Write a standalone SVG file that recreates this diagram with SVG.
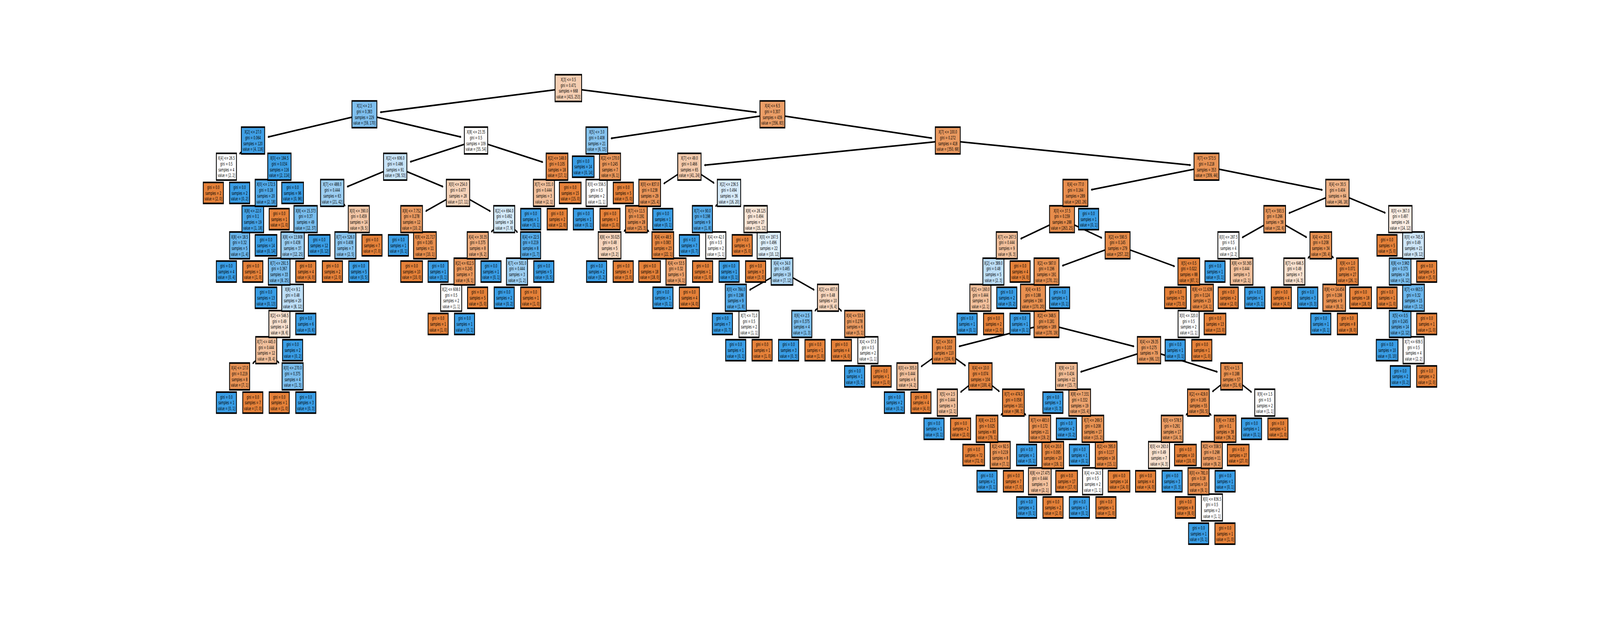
<svg xmlns="http://www.w3.org/2000/svg" width="8000" height="1600" viewBox="0 0 8000 1600" preserveAspectRatio="none" style="width:100vw;height:100vh;display:block">
<style>
.n rect{stroke:#000;stroke-width:4}
.n text{font-family:"DejaVu Sans","Liberation Sans",sans-serif;font-size:12.7px;text-anchor:middle;fill:#000}
.o{fill:#e58139}.b{fill:#399de5}
#edges path{fill:none;stroke:#000;stroke-width:4;marker-end:url(#ah)}
</style>
<defs>
<marker id="ah" viewBox="-10 -10 20 20" refX="0" refY="0" markerWidth="20" markerHeight="20" markerUnits="userSpaceOnUse" orient="auto"><path d="M-3.5,-1.8L0,0L-3.5,1.8" fill="none" stroke="#000" stroke-width="4" stroke-linejoin="miter" stroke-miterlimit="10"/></marker>
</defs>
<rect width="8000" height="1600" fill="#fff"/>
<g id="edges">
<path d="M2841.7,225.5L1903.4,287.2"/><path d="M2841.7,225.5L3780.6,287.2"/>
<path d="M1822,292.6L1342.2,350.4"/><path d="M1822,292.6L2302.8,350.4"/>
<path d="M1265,359.7L1199.5,392.8"/><path d="M1265,359.7L1321.5,388.4"/>
<path d="M1132,426.8L1106.6,452.8"/><path d="M1132,426.8L1157.6,452.9"/>
<path d="M1397,426.8L1378.2,445.6"/><path d="M1397,426.8L1422.6,452.9"/>
<path d="M1330,493.9L1311.6,512.6"/><path d="M1330,493.9L1355.6,520"/>
<path d="M1264,561L1245.6,579.7"/><path d="M1264,561L1289.6,587.1"/>
<path d="M1198,628.1L1172.4,654.2"/><path d="M1198,628.1L1223.6,654.2"/>
<path d="M2380,359.7L2053.1,414"/><path d="M2380,359.7L2711.9,414.7"/>
<path d="M1976,426.8L1738,477.5"/><path d="M1976,426.8L2213.1,477.5"/>
<path d="M1661,493.9L1603.5,522.9"/><path d="M1661,493.9L1724.1,525.7"/>
<path d="M1528,561L1509.9,579.6"/><path d="M1528,561L1554.6,587.3"/>
<path d="M1463,628.1L1444.2,646.9"/><path d="M1463,628.1L1488.6,654.2"/>
<path d="M1396,695.2L1370.4,721.3"/><path d="M1396,695.2L1414.8,714"/>
<path d="M1463,762.3L1444.6,781"/><path d="M1463,762.3L1488.6,788.4"/>
<path d="M1397,829.4L1378.6,848.1"/><path d="M1397,829.4L1422.6,855.5"/>
<path d="M1331,896.5L1265.5,929.6"/><path d="M1331,896.5L1393.2,928.1"/>
<path d="M1198,963.6L1172.4,989.7"/><path d="M1198,963.6L1223.6,989.7"/>
<path d="M1463,963.6L1436.9,989.8"/><path d="M1463,963.6L1488.6,989.7"/>
<path d="M1794,561L1775.2,579.8"/><path d="M1794,561L1819.6,587.1"/>
<path d="M1727,628.1L1701.8,654.1"/><path d="M1727,628.1L1753.1,654.3"/>
<path d="M2290,493.9L2130.6,540"/><path d="M2290,493.9L2450,540.4"/>
<path d="M2058,561L2032.4,587.1"/><path d="M2058,561L2076.6,579.8"/>
<path d="M2124.5,628.1L2098.6,654.2"/><path d="M2124.5,628.1L2150.2,654.2"/>
<path d="M2521,561L2458.5,592.6"/><path d="M2521,561L2585.6,593.8"/>
<path d="M2388.6,628.1L2370.4,646.8"/><path d="M2388.6,628.1L2414.5,654.2"/>
<path d="M2322.6,695.2L2303.9,713.9"/><path d="M2322.6,695.2L2348,721.4"/>
<path d="M2256,762.3L2230.6,788.5"/><path d="M2256,762.3L2281.9,788.4"/>
<path d="M2653,628.1L2633.8,647"/><path d="M2653,628.1L2678.6,654.2"/>
<path d="M2585,695.2L2560.3,721.1"/><path d="M2585,695.2L2612,721.5"/>
<path d="M2785,426.8L2766.8,445.4"/><path d="M2785,426.8L2810.6,452.9"/>
<path d="M2719.7,493.9L2694.1,520"/><path d="M2719.7,493.9L2745.5,520"/>
<path d="M3862,292.6L3057.3,354.1"/><path d="M3862,292.6L4657.7,353.5"/>
<path d="M2984,359.7L2957.4,386"/><path d="M2984,359.7L3002.4,378.4"/>
<path d="M3050,426.8L3031.2,445.6"/><path d="M3050,426.8L3075.9,452.9"/>
<path d="M2983,493.9L2957.4,520"/><path d="M2983,493.9L3009.1,520.1"/>
<path d="M4739,359.7L3524.3,422.8"/><path d="M4739,359.7L5951.1,422.6"/>
<path d="M3447,426.8L3320.9,469.4"/><path d="M3447,426.8L3568.6,468"/>
<path d="M3248.5,493.9L3229.9,512.7"/><path d="M3248.5,493.9L3273.9,519.9"/>
<path d="M3182,561L3122,591.1"/><path d="M3182,561L3242.6,591.8"/>
<path d="M3048,628.1L3022.8,654.1"/><path d="M3048,628.1L3074.6,654.4"/>
<path d="M3314,628.1L3288.4,654.2"/><path d="M3314,628.1L3332.4,646.8"/>
<path d="M3380,695.2L3354.6,721.3"/><path d="M3380,695.2L3406.1,721.4"/>
<path d="M3645,493.9L3579.5,527"/><path d="M3645,493.9L3702.5,522.9"/>
<path d="M3512,561L3486.8,587"/><path d="M3512,561L3530.8,579.8"/>
<path d="M3579,628.1L3553.4,654.2"/><path d="M3579,628.1L3605,654.2"/>
<path d="M3778,561L3751.9,587.2"/><path d="M3778,561L3796.4,579.7"/>
<path d="M3844,628.1L3818.4,654.2"/><path d="M3844,628.1L3862.4,646.8"/>
<path d="M3910,695.2L3750,741.7"/><path d="M3910,695.2L4069,741.6"/>
<path d="M3679,762.3L3652.9,788.5"/><path d="M3679,762.3L3697.4,781"/>
<path d="M3745,829.4L3719.1,855.5"/><path d="M3745,829.4L3770.4,855.5"/>
<path d="M4140,762.3L4076.4,794.9"/><path d="M4140,762.3L4206.2,795.5"/>
<path d="M4009,829.4L3983.4,855.5"/><path d="M4009,829.4L4034.6,855.5"/>
<path d="M4273.7,829.4L4247.7,855.5"/><path d="M4273.7,829.4L4292,848.2"/>
<path d="M4339.5,896.5L4313.6,922.6"/><path d="M4339.5,896.5L4365.3,922.6"/>
<path d="M6032.5,426.8L5458.3,485.6"/><path d="M6032.5,426.8L6609.8,486"/>
<path d="M5377,493.9L5358.2,512.7"/><path d="M5377,493.9L5402.6,520"/>
<path d="M5310,561L5105.2,610.8"/><path d="M5310,561L5507.1,608.6"/>
<path d="M5034,628.1L5015.2,646.9"/><path d="M5034,628.1L5059.9,654.2"/>
<path d="M4967,695.2L4948.9,713.8"/><path d="M4967,695.2L4993.1,721.4"/>
<path d="M4902,762.3L4876.1,788.4"/><path d="M4902,762.3L4927.6,788.4"/>
<path d="M5588,628.1L5313.7,679.9"/><path d="M5588,628.1L5871,681.4"/>
<path d="M5232.6,695.2L5213.6,714.1"/><path d="M5232.6,695.2L5258,721.4"/>
<path d="M5165,762.3L5139.8,788.3"/><path d="M5165,762.3L5184,781.2"/>
<path d="M5232.6,829.4L4797.2,886.4"/><path d="M5232.6,829.4L5667.8,886.4"/>
<path d="M4720,896.5L4607.7,937.7"/><path d="M4720,896.5L4825.7,935.5"/>
<path d="M4537,963.6L4511.8,989.6"/><path d="M4537,963.6L4563.5,989.8"/>
<path d="M4902,963.6L4804.8,1003.1"/><path d="M4902,963.6L4995,1001.4"/>
<path d="M4736.7,1030.7L4710.6,1056.7"/><path d="M4736.7,1030.7L4762.5,1056.8"/>
<path d="M5067,1030.7L5006.5,1061.5"/><path d="M5067,1030.7L5127.6,1061.5"/>
<path d="M4935,1097.8L4909.1,1123.9"/><path d="M4935,1097.8L4953.4,1116.5"/>
<path d="M5001,1164.9L4975.4,1191"/><path d="M5001,1164.9L5026.6,1191"/>
<path d="M5199,1097.8L5173.4,1123.9"/><path d="M5199,1097.8L5217.1,1116.4"/>
<path d="M5264,1164.9L5245.9,1183.5"/><path d="M5264,1164.9L5291.1,1191.2"/>
<path d="M5199,1232L5173.4,1258.1"/><path d="M5199,1232L5224.6,1258.1"/>
<path d="M5745,896.5L5405.1,951.7"/><path d="M5745,896.5L6084.9,951.7"/>
<path d="M5332,963.6L5305.7,989.8"/><path d="M5332,963.6L5350.6,982.4"/>
<path d="M5398.5,1030.7L5372.6,1056.8"/><path d="M5398.5,1030.7L5416.9,1049.4"/>
<path d="M5464.4,1097.8L5438.1,1124"/><path d="M5464.4,1097.8L5482.9,1116.6"/>
<path d="M5530.7,1164.9L5511.7,1183.8"/><path d="M5530.7,1164.9L5555.5,1190.8"/>
<path d="M5463,1232L5437.4,1258.1"/><path d="M5463,1232L5488.9,1258.1"/>
<path d="M6158,963.6L6064.1,1001.6"/><path d="M6158,963.6L6255.9,1003.2"/>
<path d="M5992,1030.7L5932,1061.3"/><path d="M5992,1030.7L6054.1,1061.9"/>
<path d="M5860.6,1097.8L5842.3,1116.6"/><path d="M5860.6,1097.8L5886.4,1123.9"/>
<path d="M5795,1164.9L5768.9,1191.1"/><path d="M5795,1164.9L5820.3,1191"/>
<path d="M6125.6,1097.8L6106.9,1116.6"/><path d="M6125.6,1097.8L6151,1124"/>
<path d="M6059,1164.9L6040.5,1183.7"/><path d="M6059,1164.9L6084.9,1191"/>
<path d="M5992.6,1232L5967.2,1258.1"/><path d="M5992.6,1232L6011.4,1250.8"/>
<path d="M6059.6,1299.1L6033.7,1325.2"/><path d="M6059.6,1299.1L6084.6,1325.2"/>
<path d="M6324,1030.7L6298.1,1056.8"/><path d="M6324,1030.7L6349.4,1056.8"/>
<path d="M5944,695.2L5917.9,721.4"/><path d="M5944,695.2L5962.4,713.9"/>
<path d="M6010,762.3L5991.2,781.1"/><path d="M6010,762.3L6035.2,788.3"/>
<path d="M5943,829.4L5916.9,855.6"/><path d="M5943,829.4L5968.6,855.5"/>
<path d="M6687,493.9L6446.4,545.4"/><path d="M6687,493.9L6924.8,544.6"/>
<path d="M6373.5,561L6213,607.5"/><path d="M6373.5,561L6531.4,607"/>
<path d="M6142,628.1L6115.9,654.3"/><path d="M6142,628.1L6160.4,646.8"/>
<path d="M6208,695.2L6181.9,721.4"/><path d="M6208,695.2L6233.6,721.3"/>
<path d="M6604,628.1L6541.6,659.8"/><path d="M6604,628.1L6665.5,659.1"/>
<path d="M6471.7,695.2L6446.4,721.4"/><path d="M6471.7,695.2L6497.8,721.4"/>
<path d="M6737,695.2L6718.6,714"/><path d="M6737,695.2L6762.6,721.3"/>
<path d="M6671,762.3L6644.9,788.5"/><path d="M6671,762.3L6696.6,788.4"/>
<path d="M7001.7,561L6975.7,587.1"/><path d="M7001.7,561L7020.1,579.8"/>
<path d="M7067.6,628.1L7048.8,646.9"/><path d="M7067.6,628.1L7093.2,654.2"/>
<path d="M7000.6,695.2L6975.2,721.3"/><path d="M7000.6,695.2L7019.4,714"/>
<path d="M7067.6,762.3L7048.8,781.1"/><path d="M7067.6,762.3L7093.2,788.4"/>
<path d="M7000.6,829.4L6975.4,855.4"/><path d="M7000.6,829.4L7019.6,848.2"/>
<path d="M7068,896.5L7042.2,922.6"/><path d="M7068,896.5L7093,922.6"/>
</g>
<g id="nodes">
<g id="n170" class="n" transform="translate(5993,1366.2)"><rect class="b" x="-50.3" y="-26.9" width="100.6" height="53.8"/><text y="-10.1"><tspan x="0">gini = 0.0</tspan><tspan x="0" dy="14.7">samples = 1</tspan><tspan x="0" dy="14.7">value = [0, 1]</tspan></text></g>
<g id="n171" class="n" transform="translate(6125,1366.2)"><rect class="o" x="-50.3" y="-26.9" width="100.6" height="53.8"/><text y="-10.1"><tspan x="0">gini = 0.0</tspan><tspan x="0" dy="14.7">samples = 1</tspan><tspan x="0" dy="14.7">value = [1, 0]</tspan></text></g>
<g id="n143" class="n" transform="translate(5133,1299.1)"><rect class="b" x="-50.3" y="-26.9" width="100.6" height="53.8"/><text y="-10.1"><tspan x="0">gini = 0.0</tspan><tspan x="0" dy="14.7">samples = 1</tspan><tspan x="0" dy="14.7">value = [0, 1]</tspan></text></g>
<g id="n144" class="n" transform="translate(5265,1299.1)"><rect class="o" x="-50.3" y="-26.9" width="100.6" height="53.8"/><text y="-10.1"><tspan x="0">gini = 0.0</tspan><tspan x="0" dy="14.7">samples = 2</tspan><tspan x="0" dy="14.7">value = [2, 0]</tspan></text></g>
<g id="n155" class="n" transform="translate(5397,1299.1)"><rect class="b" x="-50.3" y="-26.9" width="100.6" height="53.8"/><text y="-10.1"><tspan x="0">gini = 0.0</tspan><tspan x="0" dy="14.7">samples = 1</tspan><tspan x="0" dy="14.7">value = [0, 1]</tspan></text></g>
<g id="n156" class="n" transform="translate(5529.6,1299.1)"><rect class="o" x="-50.3" y="-26.9" width="100.6" height="53.8"/><text y="-10.1"><tspan x="0">gini = 0.0</tspan><tspan x="0" dy="14.7">samples = 1</tspan><tspan x="0" dy="14.7">value = [1, 0]</tspan></text></g>
<g id="n168" class="n" transform="translate(5927,1299.1)"><rect class="o" x="-50.3" y="-26.9" width="100.6" height="53.8"/><text y="-10.1"><tspan x="0">gini = 0.0</tspan><tspan x="0" dy="14.7">samples = 8</tspan><tspan x="0" dy="14.7">value = [8, 0]</tspan></text></g>
<g id="n169" class="n" transform="translate(6059.6,1299.1)"><rect fill="#ffffff" x="-52.7" y="-34.25" width="105.4" height="68.5"/><text y="-17.45"><tspan x="0">X[0] &lt;= 836.5</tspan><tspan x="0" dy="14.7">gini = 0.5</tspan><tspan x="0" dy="14.7">samples = 2</tspan><tspan x="0" dy="14.7">value = [1, 1]</tspan></text></g>
<g id="n137" class="n" transform="translate(4935,1232)"><rect class="b" x="-50.3" y="-26.9" width="100.6" height="53.8"/><text y="-10.1"><tspan x="0">gini = 0.0</tspan><tspan x="0" dy="14.7">samples = 1</tspan><tspan x="0" dy="14.7">value = [0, 1]</tspan></text></g>
<g id="n138" class="n" transform="translate(5067,1232)"><rect class="o" x="-50.3" y="-26.9" width="100.6" height="53.8"/><text y="-10.1"><tspan x="0">gini = 0.0</tspan><tspan x="0" dy="14.7">samples = 7</tspan><tspan x="0" dy="14.7">value = [7, 0]</tspan></text></g>
<g id="n142" class="n" transform="translate(5199,1232)"><rect fill="#f2c09c" x="-56.75" y="-34.25" width="113.5" height="68.5"/><text y="-17.45"><tspan x="0">X[8] &lt;= 27.475</tspan><tspan x="0" dy="14.7">gini = 0.444</tspan><tspan x="0" dy="14.7">samples = 3</tspan><tspan x="0" dy="14.7">value = [2, 1]</tspan></text></g>
<g id="n145" class="n" transform="translate(5333,1232)"><rect class="o" x="-54.3" y="-26.9" width="108.6" height="53.8"/><text y="-10.1"><tspan x="0">gini = 0.0</tspan><tspan x="0" dy="14.7">samples = 17</tspan><tspan x="0" dy="14.7">value = [17, 0]</tspan></text></g>
<g id="n154" class="n" transform="translate(5463,1232)"><rect fill="#ffffff" x="-50.3" y="-34.25" width="100.6" height="68.5"/><text y="-17.45"><tspan x="0">X[4] &lt;= 24.5</tspan><tspan x="0" dy="14.7">gini = 0.5</tspan><tspan x="0" dy="14.7">samples = 2</tspan><tspan x="0" dy="14.7">value = [1, 1]</tspan></text></g>
<g id="n157" class="n" transform="translate(5595,1232)"><rect class="o" x="-54.3" y="-26.9" width="108.6" height="53.8"/><text y="-10.1"><tspan x="0">gini = 0.0</tspan><tspan x="0" dy="14.7">samples = 14</tspan><tspan x="0" dy="14.7">value = [14, 0]</tspan></text></g>
<g id="n162" class="n" transform="translate(5728,1232)"><rect class="o" x="-50.3" y="-26.9" width="100.6" height="53.8"/><text y="-10.1"><tspan x="0">gini = 0.0</tspan><tspan x="0" dy="14.7">samples = 4</tspan><tspan x="0" dy="14.7">value = [4, 0]</tspan></text></g>
<g id="n163" class="n" transform="translate(5860.6,1232)"><rect class="b" x="-50.3" y="-26.9" width="100.6" height="53.8"/><text y="-10.1"><tspan x="0">gini = 0.0</tspan><tspan x="0" dy="14.7">samples = 3</tspan><tspan x="0" dy="14.7">value = [0, 3]</tspan></text></g>
<g id="n167" class="n" transform="translate(5992.6,1232)"><rect fill="#e88f4f" x="-52.7" y="-34.25" width="105.4" height="68.5"/><text y="-17.45"><tspan x="0">X[0] &lt;= 781.0</tspan><tspan x="0" dy="14.7">gini = 0.18</tspan><tspan x="0" dy="14.7">samples = 10</tspan><tspan x="0" dy="14.7">value = [9, 1]</tspan></text></g>
<g id="n172" class="n" transform="translate(6125.6,1232)"><rect class="b" x="-50.3" y="-26.9" width="100.6" height="53.8"/><text y="-10.1"><tspan x="0">gini = 0.0</tspan><tspan x="0" dy="14.7">samples = 1</tspan><tspan x="0" dy="14.7">value = [0, 1]</tspan></text></g>
<g id="n135" class="n" transform="translate(4868.5,1164.9)"><rect class="o" x="-54.3" y="-26.9" width="108.6" height="53.8"/><text y="-10.1"><tspan x="0">gini = 0.0</tspan><tspan x="0" dy="14.7">samples = 72</tspan><tspan x="0" dy="14.7">value = [72, 0]</tspan></text></g>
<g id="n136" class="n" transform="translate(5001,1164.9)"><rect fill="#e99355" x="-50.3" y="-34.25" width="100.6" height="68.5"/><text y="-17.45"><tspan x="0">X[2] &lt;= 92.5</tspan><tspan x="0" dy="14.7">gini = 0.219</tspan><tspan x="0" dy="14.7">samples = 8</tspan><tspan x="0" dy="14.7">value = [7, 1]</tspan></text></g>
<g id="n140" class="n" transform="translate(5133,1164.9)"><rect class="b" x="-50.3" y="-26.9" width="100.6" height="53.8"/><text y="-10.1"><tspan x="0">gini = 0.0</tspan><tspan x="0" dy="14.7">samples = 1</tspan><tspan x="0" dy="14.7">value = [0, 1]</tspan></text></g>
<g id="n141" class="n" transform="translate(5264,1164.9)"><rect fill="#e68843" x="-54.3" y="-34.25" width="108.6" height="68.5"/><text y="-17.45"><tspan x="0">X[4] &lt;= 20.0</tspan><tspan x="0" dy="14.7">gini = 0.095</tspan><tspan x="0" dy="14.7">samples = 20</tspan><tspan x="0" dy="14.7">value = [19, 1]</tspan></text></g>
<g id="n152" class="n" transform="translate(5397,1164.9)"><rect class="b" x="-50.3" y="-26.9" width="100.6" height="53.8"/><text y="-10.1"><tspan x="0">gini = 0.0</tspan><tspan x="0" dy="14.7">samples = 1</tspan><tspan x="0" dy="14.7">value = [0, 1]</tspan></text></g>
<g id="n153" class="n" transform="translate(5530.7,1164.9)"><rect fill="#e78946" x="-54.3" y="-34.25" width="108.6" height="68.5"/><text y="-17.45"><tspan x="0">X[2] &lt;= 395.0</tspan><tspan x="0" dy="14.7">gini = 0.117</tspan><tspan x="0" dy="14.7">samples = 16</tspan><tspan x="0" dy="14.7">value = [15, 1]</tspan></text></g>
<g id="n161" class="n" transform="translate(5795,1164.9)"><rect fill="#f8e0ce" x="-52.7" y="-34.25" width="105.4" height="68.5"/><text y="-17.45"><tspan x="0">X[0] &lt;= 263.0</tspan><tspan x="0" dy="14.7">gini = 0.49</tspan><tspan x="0" dy="14.7">samples = 7</tspan><tspan x="0" dy="14.7">value = [4, 3]</tspan></text></g>
<g id="n164" class="n" transform="translate(5927,1164.9)"><rect class="o" x="-54.3" y="-26.9" width="108.6" height="53.8"/><text y="-10.1"><tspan x="0">gini = 0.0</tspan><tspan x="0" dy="14.7">samples = 10</tspan><tspan x="0" dy="14.7">value = [10, 0]</tspan></text></g>
<g id="n166" class="n" transform="translate(6059,1164.9)"><rect fill="#eb9d65" x="-52.7" y="-34.25" width="105.4" height="68.5"/><text y="-17.45"><tspan x="0">X[2] &lt;= 558.5</tspan><tspan x="0" dy="14.7">gini = 0.298</tspan><tspan x="0" dy="14.7">samples = 11</tspan><tspan x="0" dy="14.7">value = [9, 2]</tspan></text></g>
<g id="n173" class="n" transform="translate(6191,1164.9)"><rect class="o" x="-54.3" y="-26.9" width="108.6" height="53.8"/><text y="-10.1"><tspan x="0">gini = 0.0</tspan><tspan x="0" dy="14.7">samples = 27</tspan><tspan x="0" dy="14.7">value = [27, 0]</tspan></text></g>
<g id="n131" class="n" transform="translate(4670,1097.8)"><rect class="b" x="-50.3" y="-26.9" width="100.6" height="53.8"/><text y="-10.1"><tspan x="0">gini = 0.0</tspan><tspan x="0" dy="14.7">samples = 1</tspan><tspan x="0" dy="14.7">value = [0, 1]</tspan></text></g>
<g id="n132" class="n" transform="translate(4803,1097.8)"><rect class="o" x="-50.3" y="-26.9" width="100.6" height="53.8"/><text y="-10.1"><tspan x="0">gini = 0.0</tspan><tspan x="0" dy="14.7">samples = 2</tspan><tspan x="0" dy="14.7">value = [2, 0]</tspan></text></g>
<g id="n134" class="n" transform="translate(4935,1097.8)"><rect fill="#e5833c" x="-54.3" y="-34.25" width="108.6" height="68.5"/><text y="-17.45"><tspan x="0">X[8] &lt;= 23.5</tspan><tspan x="0" dy="14.7">gini = 0.025</tspan><tspan x="0" dy="14.7">samples = 80</tspan><tspan x="0" dy="14.7">value = [79, 1]</tspan></text></g>
<g id="n139" class="n" transform="translate(5199,1097.8)"><rect fill="#e88e4e" x="-54.3" y="-34.25" width="108.6" height="68.5"/><text y="-17.45"><tspan x="0">X[7] &lt;= 483.0</tspan><tspan x="0" dy="14.7">gini = 0.172</tspan><tspan x="0" dy="14.7">samples = 21</tspan><tspan x="0" dy="14.7">value = [19, 2]</tspan></text></g>
<g id="n150" class="n" transform="translate(5332,1097.8)"><rect class="b" x="-50.3" y="-26.9" width="100.6" height="53.8"/><text y="-10.1"><tspan x="0">gini = 0.0</tspan><tspan x="0" dy="14.7">samples = 2</tspan><tspan x="0" dy="14.7">value = [0, 2]</tspan></text></g>
<g id="n151" class="n" transform="translate(5464.4,1097.8)"><rect fill="#e89253" x="-54.3" y="-34.25" width="108.6" height="68.5"/><text y="-17.45"><tspan x="0">X[7] &lt;= 269.5</tspan><tspan x="0" dy="14.7">gini = 0.208</tspan><tspan x="0" dy="14.7">samples = 17</tspan><tspan x="0" dy="14.7">value = [15, 2]</tspan></text></g>
<g id="n160" class="n" transform="translate(5860.6,1097.8)"><rect fill="#eb9c63" x="-54.3" y="-34.25" width="108.6" height="68.5"/><text y="-17.45"><tspan x="0">X[0] &lt;= 578.5</tspan><tspan x="0" dy="14.7">gini = 0.291</tspan><tspan x="0" dy="14.7">samples = 17</tspan><tspan x="0" dy="14.7">value = [14, 3]</tspan></text></g>
<g id="n165" class="n" transform="translate(6125.6,1097.8)"><rect fill="#e68844" x="-54.3" y="-34.25" width="108.6" height="68.5"/><text y="-17.45"><tspan x="0">X[8] &lt;= 7.835</tspan><tspan x="0" dy="14.7">gini = 0.1</tspan><tspan x="0" dy="14.7">samples = 38</tspan><tspan x="0" dy="14.7">value = [36, 2]</tspan></text></g>
<g id="n175" class="n" transform="translate(6257.6,1097.8)"><rect class="b" x="-50.3" y="-26.9" width="100.6" height="53.8"/><text y="-10.1"><tspan x="0">gini = 0.0</tspan><tspan x="0" dy="14.7">samples = 1</tspan><tspan x="0" dy="14.7">value = [0, 1]</tspan></text></g>
<g id="n176" class="n" transform="translate(6389.6,1097.8)"><rect class="o" x="-50.3" y="-26.9" width="100.6" height="53.8"/><text y="-10.1"><tspan x="0">gini = 0.0</tspan><tspan x="0" dy="14.7">samples = 1</tspan><tspan x="0" dy="14.7">value = [1, 0]</tspan></text></g>
<g id="n26" class="n" transform="translate(1132,1030.7)"><rect class="b" x="-50.3" y="-26.9" width="100.6" height="53.8"/><text y="-10.1"><tspan x="0">gini = 0.0</tspan><tspan x="0" dy="14.7">samples = 1</tspan><tspan x="0" dy="14.7">value = [0, 1]</tspan></text></g>
<g id="n27" class="n" transform="translate(1264,1030.7)"><rect class="o" x="-50.3" y="-26.9" width="100.6" height="53.8"/><text y="-10.1"><tspan x="0">gini = 0.0</tspan><tspan x="0" dy="14.7">samples = 7</tspan><tspan x="0" dy="14.7">value = [7, 0]</tspan></text></g>
<g id="n29" class="n" transform="translate(1396,1030.7)"><rect class="o" x="-50.3" y="-26.9" width="100.6" height="53.8"/><text y="-10.1"><tspan x="0">gini = 0.0</tspan><tspan x="0" dy="14.7">samples = 1</tspan><tspan x="0" dy="14.7">value = [1, 0]</tspan></text></g>
<g id="n30" class="n" transform="translate(1529,1030.7)"><rect class="b" x="-50.3" y="-26.9" width="100.6" height="53.8"/><text y="-10.1"><tspan x="0">gini = 0.0</tspan><tspan x="0" dy="14.7">samples = 3</tspan><tspan x="0" dy="14.7">value = [0, 3]</tspan></text></g>
<g id="n127" class="n" transform="translate(4472,1030.7)"><rect class="b" x="-50.3" y="-26.9" width="100.6" height="53.8"/><text y="-10.1"><tspan x="0">gini = 0.0</tspan><tspan x="0" dy="14.7">samples = 2</tspan><tspan x="0" dy="14.7">value = [0, 2]</tspan></text></g>
<g id="n128" class="n" transform="translate(4604.7,1030.7)"><rect class="o" x="-50.3" y="-26.9" width="100.6" height="53.8"/><text y="-10.1"><tspan x="0">gini = 0.0</tspan><tspan x="0" dy="14.7">samples = 4</tspan><tspan x="0" dy="14.7">value = [4, 0]</tspan></text></g>
<g id="n130" class="n" transform="translate(4736.7,1030.7)"><rect fill="#f2c09c" x="-50.3" y="-34.25" width="100.6" height="68.5"/><text y="-17.45"><tspan x="0">X[5] &lt;= 2.5</tspan><tspan x="0" dy="14.7">gini = 0.444</tspan><tspan x="0" dy="14.7">samples = 3</tspan><tspan x="0" dy="14.7">value = [2, 1]</tspan></text></g>
<g id="n133" class="n" transform="translate(5067,1030.7)"><rect fill="#e6853f" x="-54.3" y="-34.25" width="108.6" height="68.5"/><text y="-17.45"><tspan x="0">X[7] &lt;= 474.5</tspan><tspan x="0" dy="14.7">gini = 0.058</tspan><tspan x="0" dy="14.7">samples = 101</tspan><tspan x="0" dy="14.7">value = [98, 3]</tspan></text></g>
<g id="n148" class="n" transform="translate(5264.5,1030.7)"><rect class="b" x="-50.3" y="-26.9" width="100.6" height="53.8"/><text y="-10.1"><tspan x="0">gini = 0.0</tspan><tspan x="0" dy="14.7">samples = 3</tspan><tspan x="0" dy="14.7">value = [0, 3]</tspan></text></g>
<g id="n149" class="n" transform="translate(5398.5,1030.7)"><rect fill="#eca36e" x="-54.3" y="-34.25" width="108.6" height="68.5"/><text y="-17.45"><tspan x="0">X[8] &lt;= 7.331</tspan><tspan x="0" dy="14.7">gini = 0.332</tspan><tspan x="0" dy="14.7">samples = 19</tspan><tspan x="0" dy="14.7">value = [15, 4]</tspan></text></g>
<g id="n159" class="n" transform="translate(5992,1030.7)"><rect fill="#e88e4d" x="-54.3" y="-34.25" width="108.6" height="68.5"/><text y="-17.45"><tspan x="0">X[2] &lt;= 419.0</tspan><tspan x="0" dy="14.7">gini = 0.165</tspan><tspan x="0" dy="14.7">samples = 55</tspan><tspan x="0" dy="14.7">value = [50, 5]</tspan></text></g>
<g id="n174" class="n" transform="translate(6324,1030.7)"><rect fill="#ffffff" x="-50.3" y="-34.25" width="100.6" height="68.5"/><text y="-17.45"><tspan x="0">X[9] &lt;= 1.5</tspan><tspan x="0" dy="14.7">gini = 0.5</tspan><tspan x="0" dy="14.7">samples = 2</tspan><tspan x="0" dy="14.7">value = [1, 1]</tspan></text></g>
<g id="n25" class="n" transform="translate(1198,963.6)"><rect fill="#e99355" x="-50.3" y="-34.25" width="100.6" height="68.5"/><text y="-17.45"><tspan x="0">X[4] &lt;= 17.0</tspan><tspan x="0" dy="14.7">gini = 0.219</tspan><tspan x="0" dy="14.7">samples = 8</tspan><tspan x="0" dy="14.7">value = [7, 1]</tspan></text></g>
<g id="n28" class="n" transform="translate(1463,963.6)"><rect fill="#7bbeee" x="-52.7" y="-34.25" width="105.4" height="68.5"/><text y="-17.45"><tspan x="0">X[0] &lt;= 270.0</tspan><tspan x="0" dy="14.7">gini = 0.375</tspan><tspan x="0" dy="14.7">samples = 4</tspan><tspan x="0" dy="14.7">value = [1, 3]</tspan></text></g>
<g id="n108" class="n" transform="translate(4273,963.6)"><rect class="b" x="-50.3" y="-26.9" width="100.6" height="53.8"/><text y="-10.1"><tspan x="0">gini = 0.0</tspan><tspan x="0" dy="14.7">samples = 1</tspan><tspan x="0" dy="14.7">value = [0, 1]</tspan></text></g>
<g id="n109" class="n" transform="translate(4405.7,963.6)"><rect class="o" x="-50.3" y="-26.9" width="100.6" height="53.8"/><text y="-10.1"><tspan x="0">gini = 0.0</tspan><tspan x="0" dy="14.7">samples = 1</tspan><tspan x="0" dy="14.7">value = [1, 0]</tspan></text></g>
<g id="n126" class="n" transform="translate(4537,963.6)"><rect fill="#f2c09c" x="-52.7" y="-34.25" width="105.4" height="68.5"/><text y="-17.45"><tspan x="0">X[0] &lt;= 305.0</tspan><tspan x="0" dy="14.7">gini = 0.444</tspan><tspan x="0" dy="14.7">samples = 6</tspan><tspan x="0" dy="14.7">value = [4, 2]</tspan></text></g>
<g id="n129" class="n" transform="translate(4902,963.6)"><rect fill="#e68641" x="-58.35" y="-34.25" width="116.7" height="68.5"/><text y="-17.45"><tspan x="0">X[4] &lt;= 10.0</tspan><tspan x="0" dy="14.7">gini = 0.074</tspan><tspan x="0" dy="14.7">samples = 104</tspan><tspan x="0" dy="14.7">value = [100, 4]</tspan></text></g>
<g id="n147" class="n" transform="translate(5332,963.6)"><rect fill="#f1bc95" x="-54.3" y="-34.25" width="108.6" height="68.5"/><text y="-17.45"><tspan x="0">X[9] &lt;= 1.0</tspan><tspan x="0" dy="14.7">gini = 0.434</tspan><tspan x="0" dy="14.7">samples = 22</tspan><tspan x="0" dy="14.7">value = [15, 7]</tspan></text></g>
<g id="n158" class="n" transform="translate(6158,963.6)"><rect fill="#e89050" x="-54.3" y="-34.25" width="108.6" height="68.5"/><text y="-17.45"><tspan x="0">X[5] &lt;= 1.5</tspan><tspan x="0" dy="14.7">gini = 0.188</tspan><tspan x="0" dy="14.7">samples = 57</tspan><tspan x="0" dy="14.7">value = [51, 6]</tspan></text></g>
<g id="n211" class="n" transform="translate(7001.7,963.6)"><rect class="b" x="-50.3" y="-26.9" width="100.6" height="53.8"/><text y="-10.1"><tspan x="0">gini = 0.0</tspan><tspan x="0" dy="14.7">samples = 2</tspan><tspan x="0" dy="14.7">value = [0, 2]</tspan></text></g>
<g id="n212" class="n" transform="translate(7133.5,963.6)"><rect class="o" x="-50.3" y="-26.9" width="100.6" height="53.8"/><text y="-10.1"><tspan x="0">gini = 0.0</tspan><tspan x="0" dy="14.7">samples = 2</tspan><tspan x="0" dy="14.7">value = [2, 0]</tspan></text></g>
<g id="n24" class="n" transform="translate(1331,896.5)"><rect fill="#f2c09c" x="-52.7" y="-34.25" width="105.4" height="68.5"/><text y="-17.45"><tspan x="0">X[7] &lt;= 445.0</tspan><tspan x="0" dy="14.7">gini = 0.444</tspan><tspan x="0" dy="14.7">samples = 12</tspan><tspan x="0" dy="14.7">value = [8, 4]</tspan></text></g>
<g id="n31" class="n" transform="translate(1463,896.5)"><rect class="b" x="-50.3" y="-26.9" width="100.6" height="53.8"/><text y="-10.1"><tspan x="0">gini = 0.0</tspan><tspan x="0" dy="14.7">samples = 2</tspan><tspan x="0" dy="14.7">value = [0, 2]</tspan></text></g>
<g id="n99" class="n" transform="translate(3678.6,896.5)"><rect class="b" x="-50.3" y="-26.9" width="100.6" height="53.8"/><text y="-10.1"><tspan x="0">gini = 0.0</tspan><tspan x="0" dy="14.7">samples = 1</tspan><tspan x="0" dy="14.7">value = [0, 1]</tspan></text></g>
<g id="n100" class="n" transform="translate(3810.5,896.5)"><rect class="o" x="-50.3" y="-26.9" width="100.6" height="53.8"/><text y="-10.1"><tspan x="0">gini = 0.0</tspan><tspan x="0" dy="14.7">samples = 1</tspan><tspan x="0" dy="14.7">value = [1, 0]</tspan></text></g>
<g id="n103" class="n" transform="translate(3943,896.5)"><rect class="b" x="-50.3" y="-26.9" width="100.6" height="53.8"/><text y="-10.1"><tspan x="0">gini = 0.0</tspan><tspan x="0" dy="14.7">samples = 3</tspan><tspan x="0" dy="14.7">value = [0, 3]</tspan></text></g>
<g id="n104" class="n" transform="translate(4075,896.5)"><rect class="o" x="-50.3" y="-26.9" width="100.6" height="53.8"/><text y="-10.1"><tspan x="0">gini = 0.0</tspan><tspan x="0" dy="14.7">samples = 1</tspan><tspan x="0" dy="14.7">value = [1, 0]</tspan></text></g>
<g id="n106" class="n" transform="translate(4207,896.5)"><rect class="o" x="-50.3" y="-26.9" width="100.6" height="53.8"/><text y="-10.1"><tspan x="0">gini = 0.0</tspan><tspan x="0" dy="14.7">samples = 4</tspan><tspan x="0" dy="14.7">value = [4, 0]</tspan></text></g>
<g id="n107" class="n" transform="translate(4339.5,896.5)"><rect fill="#ffffff" x="-50.3" y="-34.25" width="100.6" height="68.5"/><text y="-17.45"><tspan x="0">X[4] &lt;= 57.0</tspan><tspan x="0" dy="14.7">gini = 0.5</tspan><tspan x="0" dy="14.7">samples = 2</tspan><tspan x="0" dy="14.7">value = [1, 1]</tspan></text></g>
<g id="n125" class="n" transform="translate(4720,896.5)"><rect fill="#e68844" x="-58.35" y="-34.25" width="116.7" height="68.5"/><text y="-17.45"><tspan x="0">X[2] &lt;= 30.0</tspan><tspan x="0" dy="14.7">gini = 0.103</tspan><tspan x="0" dy="14.7">samples = 110</tspan><tspan x="0" dy="14.7">value = [104, 6]</tspan></text></g>
<g id="n146" class="n" transform="translate(5745,896.5)"><rect fill="#ea9a60" x="-58.35" y="-34.25" width="116.7" height="68.5"/><text y="-17.45"><tspan x="0">X[4] &lt;= 29.35</tspan><tspan x="0" dy="14.7">gini = 0.275</tspan><tspan x="0" dy="14.7">samples = 79</tspan><tspan x="0" dy="14.7">value = [66, 13]</tspan></text></g>
<g id="n182" class="n" transform="translate(5876,896.5)"><rect class="b" x="-50.3" y="-26.9" width="100.6" height="53.8"/><text y="-10.1"><tspan x="0">gini = 0.0</tspan><tspan x="0" dy="14.7">samples = 1</tspan><tspan x="0" dy="14.7">value = [0, 1]</tspan></text></g>
<g id="n183" class="n" transform="translate(6009,896.5)"><rect class="o" x="-50.3" y="-26.9" width="100.6" height="53.8"/><text y="-10.1"><tspan x="0">gini = 0.0</tspan><tspan x="0" dy="14.7">samples = 1</tspan><tspan x="0" dy="14.7">value = [1, 0]</tspan></text></g>
<g id="n209" class="n" transform="translate(6935.7,896.5)"><rect class="b" x="-54.3" y="-26.9" width="108.6" height="53.8"/><text y="-10.1"><tspan x="0">gini = 0.0</tspan><tspan x="0" dy="14.7">samples = 10</tspan><tspan x="0" dy="14.7">value = [0, 10]</tspan></text></g>
<g id="n210" class="n" transform="translate(7068,896.5)"><rect fill="#ffffff" x="-52.7" y="-34.25" width="105.4" height="68.5"/><text y="-17.45"><tspan x="0">X[7] &lt;= 609.5</tspan><tspan x="0" dy="14.7">gini = 0.5</tspan><tspan x="0" dy="14.7">samples = 4</tspan><tspan x="0" dy="14.7">value = [2, 2]</tspan></text></g>
<g id="n23" class="n" transform="translate(1397,829.4)"><rect fill="#f8e0ce" x="-52.7" y="-34.25" width="105.4" height="68.5"/><text y="-17.45"><tspan x="0">X[2] &lt;= 546.5</tspan><tspan x="0" dy="14.7">gini = 0.49</tspan><tspan x="0" dy="14.7">samples = 14</tspan><tspan x="0" dy="14.7">value = [8, 6]</tspan></text></g>
<g id="n32" class="n" transform="translate(1529,829.4)"><rect class="b" x="-50.3" y="-26.9" width="100.6" height="53.8"/><text y="-10.1"><tspan x="0">gini = 0.0</tspan><tspan x="0" dy="14.7">samples = 6</tspan><tspan x="0" dy="14.7">value = [0, 6]</tspan></text></g>
<g id="n50" class="n" transform="translate(2190.6,829.4)"><rect class="o" x="-50.3" y="-26.9" width="100.6" height="53.8"/><text y="-10.1"><tspan x="0">gini = 0.0</tspan><tspan x="0" dy="14.7">samples = 1</tspan><tspan x="0" dy="14.7">value = [1, 0]</tspan></text></g>
<g id="n51" class="n" transform="translate(2322.6,829.4)"><rect class="b" x="-50.3" y="-26.9" width="100.6" height="53.8"/><text y="-10.1"><tspan x="0">gini = 0.0</tspan><tspan x="0" dy="14.7">samples = 1</tspan><tspan x="0" dy="14.7">value = [0, 1]</tspan></text></g>
<g id="n97" class="n" transform="translate(3612,829.4)"><rect class="b" x="-50.3" y="-26.9" width="100.6" height="53.8"/><text y="-10.1"><tspan x="0">gini = 0.0</tspan><tspan x="0" dy="14.7">samples = 7</tspan><tspan x="0" dy="14.7">value = [0, 7]</tspan></text></g>
<g id="n98" class="n" transform="translate(3745,829.4)"><rect fill="#ffffff" x="-50.3" y="-34.25" width="100.6" height="68.5"/><text y="-17.45"><tspan x="0">X[7] &lt;= 71.0</tspan><tspan x="0" dy="14.7">gini = 0.5</tspan><tspan x="0" dy="14.7">samples = 2</tspan><tspan x="0" dy="14.7">value = [1, 1]</tspan></text></g>
<g id="n102" class="n" transform="translate(4009,829.4)"><rect fill="#7bbeee" x="-50.3" y="-34.25" width="100.6" height="68.5"/><text y="-17.45"><tspan x="0">X[6] &lt;= 2.5</tspan><tspan x="0" dy="14.7">gini = 0.375</tspan><tspan x="0" dy="14.7">samples = 4</tspan><tspan x="0" dy="14.7">value = [1, 3]</tspan></text></g>
<g id="n105" class="n" transform="translate(4273.7,829.4)"><rect fill="#ea9a61" x="-50.3" y="-34.25" width="100.6" height="68.5"/><text y="-17.45"><tspan x="0">X[4] &lt;= 53.0</tspan><tspan x="0" dy="14.7">gini = 0.278</tspan><tspan x="0" dy="14.7">samples = 6</tspan><tspan x="0" dy="14.7">value = [5, 1]</tspan></text></g>
<g id="n116" class="n" transform="translate(4835.4,829.4)"><rect class="b" x="-50.3" y="-26.9" width="100.6" height="53.8"/><text y="-10.1"><tspan x="0">gini = 0.0</tspan><tspan x="0" dy="14.7">samples = 1</tspan><tspan x="0" dy="14.7">value = [0, 1]</tspan></text></g>
<g id="n117" class="n" transform="translate(4968,829.4)"><rect class="o" x="-50.3" y="-26.9" width="100.6" height="53.8"/><text y="-10.1"><tspan x="0">gini = 0.0</tspan><tspan x="0" dy="14.7">samples = 2</tspan><tspan x="0" dy="14.7">value = [2, 0]</tspan></text></g>
<g id="n123" class="n" transform="translate(5100,829.4)"><rect class="b" x="-50.3" y="-26.9" width="100.6" height="53.8"/><text y="-10.1"><tspan x="0">gini = 0.0</tspan><tspan x="0" dy="14.7">samples = 1</tspan><tspan x="0" dy="14.7">value = [0, 1]</tspan></text></g>
<g id="n124" class="n" transform="translate(5232.6,829.4)"><rect fill="#e88f4f" x="-62.4" y="-34.25" width="124.8" height="68.5"/><text y="-17.45"><tspan x="0">X[2] &lt;= 348.5</tspan><tspan x="0" dy="14.7">gini = 0.181</tspan><tspan x="0" dy="14.7">samples = 189</tspan><tspan x="0" dy="14.7">value = [170, 19]</tspan></text></g>
<g id="n181" class="n" transform="translate(5943,829.4)"><rect fill="#ffffff" x="-52.7" y="-34.25" width="105.4" height="68.5"/><text y="-17.45"><tspan x="0">X[0] &lt;= 320.0</tspan><tspan x="0" dy="14.7">gini = 0.5</tspan><tspan x="0" dy="14.7">samples = 2</tspan><tspan x="0" dy="14.7">value = [1, 1]</tspan></text></g>
<g id="n184" class="n" transform="translate(6075,829.4)"><rect class="o" x="-54.3" y="-26.9" width="108.6" height="53.8"/><text y="-10.1"><tspan x="0">gini = 0.0</tspan><tspan x="0" dy="14.7">samples = 13</tspan><tspan x="0" dy="14.7">value = [13, 0]</tspan></text></g>
<g id="n199" class="n" transform="translate(6604,829.4)"><rect class="b" x="-50.3" y="-26.9" width="100.6" height="53.8"/><text y="-10.1"><tspan x="0">gini = 0.0</tspan><tspan x="0" dy="14.7">samples = 1</tspan><tspan x="0" dy="14.7">value = [0, 1]</tspan></text></g>
<g id="n200" class="n" transform="translate(6737,829.4)"><rect class="o" x="-50.3" y="-26.9" width="100.6" height="53.8"/><text y="-10.1"><tspan x="0">gini = 0.0</tspan><tspan x="0" dy="14.7">samples = 8</tspan><tspan x="0" dy="14.7">value = [8, 0]</tspan></text></g>
<g id="n208" class="n" transform="translate(7000.6,829.4)"><rect fill="#5aade9" x="-54.3" y="-34.25" width="108.6" height="68.5"/><text y="-17.45"><tspan x="0">X[5] &lt;= 0.5</tspan><tspan x="0" dy="14.7">gini = 0.245</tspan><tspan x="0" dy="14.7">samples = 14</tspan><tspan x="0" dy="14.7">value = [2, 12]</tspan></text></g>
<g id="n213" class="n" transform="translate(7133.5,829.4)"><rect class="o" x="-50.3" y="-26.9" width="100.6" height="53.8"/><text y="-10.1"><tspan x="0">gini = 0.0</tspan><tspan x="0" dy="14.7">samples = 1</tspan><tspan x="0" dy="14.7">value = [1, 0]</tspan></text></g>
<g id="n21" class="n" transform="translate(1330,762.3)"><rect class="b" x="-54.3" y="-26.9" width="108.6" height="53.8"/><text y="-10.1"><tspan x="0">gini = 0.0</tspan><tspan x="0" dy="14.7">samples = 13</tspan><tspan x="0" dy="14.7">value = [0, 13]</tspan></text></g>
<g id="n22" class="n" transform="translate(1463,762.3)"><rect fill="#bddef6" x="-54.3" y="-34.25" width="108.6" height="68.5"/><text y="-17.45"><tspan x="0">X[8] &lt;= 9.1</tspan><tspan x="0" dy="14.7">gini = 0.48</tspan><tspan x="0" dy="14.7">samples = 20</tspan><tspan x="0" dy="14.7">value = [8, 12]</tspan></text></g>
<g id="n49" class="n" transform="translate(2256,762.3)"><rect fill="#ffffff" x="-52.7" y="-34.25" width="105.4" height="68.5"/><text y="-17.45"><tspan x="0">X[2] &lt;= 608.0</tspan><tspan x="0" dy="14.7">gini = 0.5</tspan><tspan x="0" dy="14.7">samples = 2</tspan><tspan x="0" dy="14.7">value = [1, 1]</tspan></text></g>
<g id="n52" class="n" transform="translate(2388,762.3)"><rect class="o" x="-50.3" y="-26.9" width="100.6" height="53.8"/><text y="-10.1"><tspan x="0">gini = 0.0</tspan><tspan x="0" dy="14.7">samples = 5</tspan><tspan x="0" dy="14.7">value = [5, 0]</tspan></text></g>
<g id="n56" class="n" transform="translate(2521,762.3)"><rect class="b" x="-50.3" y="-26.9" width="100.6" height="53.8"/><text y="-10.1"><tspan x="0">gini = 0.0</tspan><tspan x="0" dy="14.7">samples = 2</tspan><tspan x="0" dy="14.7">value = [0, 2]</tspan></text></g>
<g id="n57" class="n" transform="translate(2653.7,762.3)"><rect class="o" x="-50.3" y="-26.9" width="100.6" height="53.8"/><text y="-10.1"><tspan x="0">gini = 0.0</tspan><tspan x="0" dy="14.7">samples = 1</tspan><tspan x="0" dy="14.7">value = [1, 0]</tspan></text></g>
<g id="n82" class="n" transform="translate(3314.7,762.3)"><rect class="b" x="-50.3" y="-26.9" width="100.6" height="53.8"/><text y="-10.1"><tspan x="0">gini = 0.0</tspan><tspan x="0" dy="14.7">samples = 1</tspan><tspan x="0" dy="14.7">value = [0, 1]</tspan></text></g>
<g id="n83" class="n" transform="translate(3447,762.3)"><rect class="o" x="-50.3" y="-26.9" width="100.6" height="53.8"/><text y="-10.1"><tspan x="0">gini = 0.0</tspan><tspan x="0" dy="14.7">samples = 4</tspan><tspan x="0" dy="14.7">value = [4, 0]</tspan></text></g>
<g id="n96" class="n" transform="translate(3679,762.3)"><rect fill="#52a9e8" x="-52.7" y="-34.25" width="105.4" height="68.5"/><text y="-17.45"><tspan x="0">X[0] &lt;= 784.0</tspan><tspan x="0" dy="14.7">gini = 0.198</tspan><tspan x="0" dy="14.7">samples = 9</tspan><tspan x="0" dy="14.7">value = [1, 8]</tspan></text></g>
<g id="n101" class="n" transform="translate(4140,762.3)"><rect fill="#f6d5bd" x="-52.7" y="-34.25" width="105.4" height="68.5"/><text y="-17.45"><tspan x="0">X[2] &lt;= 407.0</tspan><tspan x="0" dy="14.7">gini = 0.48</tspan><tspan x="0" dy="14.7">samples = 10</tspan><tspan x="0" dy="14.7">value = [6, 4]</tspan></text></g>
<g id="n115" class="n" transform="translate(4902,762.3)"><rect fill="#f2c09c" x="-52.7" y="-34.25" width="105.4" height="68.5"/><text y="-17.45"><tspan x="0">X[2] &lt;= 160.0</tspan><tspan x="0" dy="14.7">gini = 0.444</tspan><tspan x="0" dy="14.7">samples = 3</tspan><tspan x="0" dy="14.7">value = [2, 1]</tspan></text></g>
<g id="n118" class="n" transform="translate(5034,762.3)"><rect class="b" x="-50.3" y="-26.9" width="100.6" height="53.8"/><text y="-10.1"><tspan x="0">gini = 0.0</tspan><tspan x="0" dy="14.7">samples = 2</tspan><tspan x="0" dy="14.7">value = [0, 2]</tspan></text></g>
<g id="n122" class="n" transform="translate(5165,762.3)"><rect fill="#e89050" x="-62.4" y="-34.25" width="124.8" height="68.5"/><text y="-17.45"><tspan x="0">X[4] &lt;= 8.5</tspan><tspan x="0" dy="14.7">gini = 0.188</tspan><tspan x="0" dy="14.7">samples = 190</tspan><tspan x="0" dy="14.7">value = [170, 20]</tspan></text></g>
<g id="n177" class="n" transform="translate(5298,762.3)"><rect class="b" x="-50.3" y="-26.9" width="100.6" height="53.8"/><text y="-10.1"><tspan x="0">gini = 0.0</tspan><tspan x="0" dy="14.7">samples = 1</tspan><tspan x="0" dy="14.7">value = [0, 1]</tspan></text></g>
<g id="n179" class="n" transform="translate(5877,762.3)"><rect class="o" x="-54.3" y="-26.9" width="108.6" height="53.8"/><text y="-10.1"><tspan x="0">gini = 0.0</tspan><tspan x="0" dy="14.7">samples = 73</tspan><tspan x="0" dy="14.7">value = [73, 0]</tspan></text></g>
<g id="n180" class="n" transform="translate(6010,762.3)"><rect fill="#e78a47" x="-56.75" y="-34.25" width="113.5" height="68.5"/><text y="-17.45"><tspan x="0">X[8] &lt;= 11.638</tspan><tspan x="0" dy="14.7">gini = 0.124</tspan><tspan x="0" dy="14.7">samples = 15</tspan><tspan x="0" dy="14.7">value = [14, 1]</tspan></text></g>
<g id="n191" class="n" transform="translate(6141,762.3)"><rect class="o" x="-50.3" y="-26.9" width="100.6" height="53.8"/><text y="-10.1"><tspan x="0">gini = 0.0</tspan><tspan x="0" dy="14.7">samples = 2</tspan><tspan x="0" dy="14.7">value = [2, 0]</tspan></text></g>
<g id="n192" class="n" transform="translate(6274,762.3)"><rect class="b" x="-50.3" y="-26.9" width="100.6" height="53.8"/><text y="-10.1"><tspan x="0">gini = 0.0</tspan><tspan x="0" dy="14.7">samples = 1</tspan><tspan x="0" dy="14.7">value = [0, 1]</tspan></text></g>
<g id="n195" class="n" transform="translate(6406.4,762.3)"><rect class="o" x="-50.3" y="-26.9" width="100.6" height="53.8"/><text y="-10.1"><tspan x="0">gini = 0.0</tspan><tspan x="0" dy="14.7">samples = 4</tspan><tspan x="0" dy="14.7">value = [4, 0]</tspan></text></g>
<g id="n196" class="n" transform="translate(6538.7,762.3)"><rect class="b" x="-50.3" y="-26.9" width="100.6" height="53.8"/><text y="-10.1"><tspan x="0">gini = 0.0</tspan><tspan x="0" dy="14.7">samples = 3</tspan><tspan x="0" dy="14.7">value = [0, 3]</tspan></text></g>
<g id="n198" class="n" transform="translate(6671,762.3)"><rect fill="#e89152" x="-56.75" y="-34.25" width="113.5" height="68.5"/><text y="-17.45"><tspan x="0">X[8] &lt;= 14.454</tspan><tspan x="0" dy="14.7">gini = 0.198</tspan><tspan x="0" dy="14.7">samples = 9</tspan><tspan x="0" dy="14.7">value = [8, 1]</tspan></text></g>
<g id="n201" class="n" transform="translate(6803,762.3)"><rect class="o" x="-54.3" y="-26.9" width="108.6" height="53.8"/><text y="-10.1"><tspan x="0">gini = 0.0</tspan><tspan x="0" dy="14.7">samples = 18</tspan><tspan x="0" dy="14.7">value = [18, 0]</tspan></text></g>
<g id="n206" class="n" transform="translate(6935,762.3)"><rect class="o" x="-50.3" y="-26.9" width="100.6" height="53.8"/><text y="-10.1"><tspan x="0">gini = 0.0</tspan><tspan x="0" dy="14.7">samples = 1</tspan><tspan x="0" dy="14.7">value = [1, 0]</tspan></text></g>
<g id="n207" class="n" transform="translate(7067.6,762.3)"><rect fill="#6ab6ec" x="-54.3" y="-34.25" width="108.6" height="68.5"/><text y="-17.45"><tspan x="0">X[7] &lt;= 663.5</tspan><tspan x="0" dy="14.7">gini = 0.32</tspan><tspan x="0" dy="14.7">samples = 15</tspan><tspan x="0" dy="14.7">value = [3, 12]</tspan></text></g>
<g id="n10" class="n" transform="translate(1132,695.2)"><rect class="b" x="-50.3" y="-26.9" width="100.6" height="53.8"/><text y="-10.1"><tspan x="0">gini = 0.0</tspan><tspan x="0" dy="14.7">samples = 4</tspan><tspan x="0" dy="14.7">value = [0, 4]</tspan></text></g>
<g id="n11" class="n" transform="translate(1264,695.2)"><rect class="o" x="-50.3" y="-26.9" width="100.6" height="53.8"/><text y="-10.1"><tspan x="0">gini = 0.0</tspan><tspan x="0" dy="14.7">samples = 1</tspan><tspan x="0" dy="14.7">value = [1, 0]</tspan></text></g>
<g id="n20" class="n" transform="translate(1396,695.2)"><rect fill="#78bced" x="-54.3" y="-34.25" width="108.6" height="68.5"/><text y="-17.45"><tspan x="0">X[7] &lt;= 291.5</tspan><tspan x="0" dy="14.7">gini = 0.367</tspan><tspan x="0" dy="14.7">samples = 33</tspan><tspan x="0" dy="14.7">value = [8, 25]</tspan></text></g>
<g id="n33" class="n" transform="translate(1529,695.2)"><rect class="o" x="-50.3" y="-26.9" width="100.6" height="53.8"/><text y="-10.1"><tspan x="0">gini = 0.0</tspan><tspan x="0" dy="14.7">samples = 4</tspan><tspan x="0" dy="14.7">value = [4, 0]</tspan></text></g>
<g id="n37" class="n" transform="translate(1662,695.2)"><rect class="o" x="-50.3" y="-26.9" width="100.6" height="53.8"/><text y="-10.1"><tspan x="0">gini = 0.0</tspan><tspan x="0" dy="14.7">samples = 2</tspan><tspan x="0" dy="14.7">value = [2, 0]</tspan></text></g>
<g id="n38" class="n" transform="translate(1794,695.2)"><rect class="b" x="-50.3" y="-26.9" width="100.6" height="53.8"/><text y="-10.1"><tspan x="0">gini = 0.0</tspan><tspan x="0" dy="14.7">samples = 5</tspan><tspan x="0" dy="14.7">value = [0, 5]</tspan></text></g>
<g id="n44" class="n" transform="translate(2058,695.2)"><rect class="o" x="-54.3" y="-26.9" width="108.6" height="53.8"/><text y="-10.1"><tspan x="0">gini = 0.0</tspan><tspan x="0" dy="14.7">samples = 10</tspan><tspan x="0" dy="14.7">value = [10, 0]</tspan></text></g>
<g id="n45" class="n" transform="translate(2190.6,695.2)"><rect class="b" x="-50.3" y="-26.9" width="100.6" height="53.8"/><text y="-10.1"><tspan x="0">gini = 0.0</tspan><tspan x="0" dy="14.7">samples = 1</tspan><tspan x="0" dy="14.7">value = [0, 1]</tspan></text></g>
<g id="n48" class="n" transform="translate(2322.6,695.2)"><rect fill="#e9965a" x="-52.7" y="-34.25" width="105.4" height="68.5"/><text y="-17.45"><tspan x="0">X[2] &lt;= 612.5</tspan><tspan x="0" dy="14.7">gini = 0.245</tspan><tspan x="0" dy="14.7">samples = 7</tspan><tspan x="0" dy="14.7">value = [6, 1]</tspan></text></g>
<g id="n53" class="n" transform="translate(2455,695.2)"><rect class="b" x="-50.3" y="-26.9" width="100.6" height="53.8"/><text y="-10.1"><tspan x="0">gini = 0.0</tspan><tspan x="0" dy="14.7">samples = 1</tspan><tspan x="0" dy="14.7">value = [0, 1]</tspan></text></g>
<g id="n55" class="n" transform="translate(2585,695.2)"><rect fill="#9ccef2" x="-52.7" y="-34.25" width="105.4" height="68.5"/><text y="-17.45"><tspan x="0">X[7] &lt;= 501.0</tspan><tspan x="0" dy="14.7">gini = 0.444</tspan><tspan x="0" dy="14.7">samples = 3</tspan><tspan x="0" dy="14.7">value = [1, 2]</tspan></text></g>
<g id="n58" class="n" transform="translate(2719,695.2)"><rect class="b" x="-50.3" y="-26.9" width="100.6" height="53.8"/><text y="-10.1"><tspan x="0">gini = 0.0</tspan><tspan x="0" dy="14.7">samples = 5</tspan><tspan x="0" dy="14.7">value = [0, 5]</tspan></text></g>
<g id="n77" class="n" transform="translate(2983,695.2)"><rect class="b" x="-50.3" y="-26.9" width="100.6" height="53.8"/><text y="-10.1"><tspan x="0">gini = 0.0</tspan><tspan x="0" dy="14.7">samples = 2</tspan><tspan x="0" dy="14.7">value = [0, 2]</tspan></text></g>
<g id="n78" class="n" transform="translate(3116,695.2)"><rect class="o" x="-50.3" y="-26.9" width="100.6" height="53.8"/><text y="-10.1"><tspan x="0">gini = 0.0</tspan><tspan x="0" dy="14.7">samples = 3</tspan><tspan x="0" dy="14.7">value = [3, 0]</tspan></text></g>
<g id="n80" class="n" transform="translate(3248,695.2)"><rect class="o" x="-54.3" y="-26.9" width="108.6" height="53.8"/><text y="-10.1"><tspan x="0">gini = 0.0</tspan><tspan x="0" dy="14.7">samples = 18</tspan><tspan x="0" dy="14.7">value = [18, 0]</tspan></text></g>
<g id="n81" class="n" transform="translate(3380,695.2)"><rect fill="#eca06a" x="-50.3" y="-34.25" width="100.6" height="68.5"/><text y="-17.45"><tspan x="0">X[4] &lt;= 53.5</tspan><tspan x="0" dy="14.7">gini = 0.32</tspan><tspan x="0" dy="14.7">samples = 5</tspan><tspan x="0" dy="14.7">value = [4, 1]</tspan></text></g>
<g id="n89" class="n" transform="translate(3513,695.2)"><rect class="o" x="-50.3" y="-26.9" width="100.6" height="53.8"/><text y="-10.1"><tspan x="0">gini = 0.0</tspan><tspan x="0" dy="14.7">samples = 1</tspan><tspan x="0" dy="14.7">value = [1, 0]</tspan></text></g>
<g id="n90" class="n" transform="translate(3645.5,695.2)"><rect class="b" x="-50.3" y="-26.9" width="100.6" height="53.8"/><text y="-10.1"><tspan x="0">gini = 0.0</tspan><tspan x="0" dy="14.7">samples = 1</tspan><tspan x="0" dy="14.7">value = [0, 1]</tspan></text></g>
<g id="n94" class="n" transform="translate(3778,695.2)"><rect class="o" x="-50.3" y="-26.9" width="100.6" height="53.8"/><text y="-10.1"><tspan x="0">gini = 0.0</tspan><tspan x="0" dy="14.7">samples = 3</tspan><tspan x="0" dy="14.7">value = [3, 0]</tspan></text></g>
<g id="n95" class="n" transform="translate(3910,695.2)"><rect fill="#acd6f4" x="-54.3" y="-34.25" width="108.6" height="68.5"/><text y="-17.45"><tspan x="0">X[4] &lt;= 34.0</tspan><tspan x="0" dy="14.7">gini = 0.465</tspan><tspan x="0" dy="14.7">samples = 19</tspan><tspan x="0" dy="14.7">value = [7, 12]</tspan></text></g>
<g id="n114" class="n" transform="translate(4967,695.2)"><rect fill="#bddef6" x="-52.7" y="-34.25" width="105.4" height="68.5"/><text y="-17.45"><tspan x="0">X[2] &lt;= 389.0</tspan><tspan x="0" dy="14.7">gini = 0.48</tspan><tspan x="0" dy="14.7">samples = 5</tspan><tspan x="0" dy="14.7">value = [2, 3]</tspan></text></g>
<g id="n119" class="n" transform="translate(5100.6,695.2)"><rect class="o" x="-50.3" y="-26.9" width="100.6" height="53.8"/><text y="-10.1"><tspan x="0">gini = 0.0</tspan><tspan x="0" dy="14.7">samples = 4</tspan><tspan x="0" dy="14.7">value = [4, 0]</tspan></text></g>
<g id="n121" class="n" transform="translate(5232.6,695.2)"><rect fill="#e89151" x="-62.4" y="-34.25" width="124.8" height="68.5"/><text y="-17.45"><tspan x="0">X[2] &lt;= 587.0</tspan><tspan x="0" dy="14.7">gini = 0.196</tspan><tspan x="0" dy="14.7">samples = 191</tspan><tspan x="0" dy="14.7">value = [170, 21]</tspan></text></g>
<g id="n178" class="n" transform="translate(5944,695.2)"><rect fill="#e5823b" x="-54.3" y="-34.25" width="108.6" height="68.5"/><text y="-17.45"><tspan x="0">X[5] &lt;= 0.5</tspan><tspan x="0" dy="14.7">gini = 0.022</tspan><tspan x="0" dy="14.7">samples = 88</tspan><tspan x="0" dy="14.7">value = [87, 1]</tspan></text></g>
<g id="n189" class="n" transform="translate(6075,695.2)"><rect class="b" x="-50.3" y="-26.9" width="100.6" height="53.8"/><text y="-10.1"><tspan x="0">gini = 0.0</tspan><tspan x="0" dy="14.7">samples = 1</tspan><tspan x="0" dy="14.7">value = [0, 1]</tspan></text></g>
<g id="n190" class="n" transform="translate(6208,695.2)"><rect fill="#f2c09c" x="-56.75" y="-34.25" width="113.5" height="68.5"/><text y="-17.45"><tspan x="0">X[8] &lt;= 50.365</tspan><tspan x="0" dy="14.7">gini = 0.444</tspan><tspan x="0" dy="14.7">samples = 3</tspan><tspan x="0" dy="14.7">value = [2, 1]</tspan></text></g>
<g id="n194" class="n" transform="translate(6471.7,695.2)"><rect fill="#f8e0ce" x="-52.7" y="-34.25" width="105.4" height="68.5"/><text y="-17.45"><tspan x="0">X[7] &lt;= 646.5</tspan><tspan x="0" dy="14.7">gini = 0.49</tspan><tspan x="0" dy="14.7">samples = 7</tspan><tspan x="0" dy="14.7">value = [4, 3]</tspan></text></g>
<g id="n197" class="n" transform="translate(6737,695.2)"><rect fill="#e68641" x="-54.3" y="-34.25" width="108.6" height="68.5"/><text y="-17.45"><tspan x="0">X[9] &lt;= 1.0</tspan><tspan x="0" dy="14.7">gini = 0.071</tspan><tspan x="0" dy="14.7">samples = 27</tspan><tspan x="0" dy="14.7">value = [26, 1]</tspan></text></g>
<g id="n205" class="n" transform="translate(7000.6,695.2)"><rect fill="#7bbeee" x="-54.3" y="-34.25" width="108.6" height="68.5"/><text y="-17.45"><tspan x="0">X[8] &lt;= 3.963</tspan><tspan x="0" dy="14.7">gini = 0.375</tspan><tspan x="0" dy="14.7">samples = 16</tspan><tspan x="0" dy="14.7">value = [4, 12]</tspan></text></g>
<g id="n214" class="n" transform="translate(7133.5,695.2)"><rect class="o" x="-50.3" y="-26.9" width="100.6" height="53.8"/><text y="-10.1"><tspan x="0">gini = 0.0</tspan><tspan x="0" dy="14.7">samples = 5</tspan><tspan x="0" dy="14.7">value = [5, 0]</tspan></text></g>
<g id="n9" class="n" transform="translate(1198,628.1)"><rect fill="#6ab6ec" x="-50.3" y="-34.25" width="100.6" height="68.5"/><text y="-17.45"><tspan x="0">X[8] &lt;= 18.5</tspan><tspan x="0" dy="14.7">gini = 0.32</tspan><tspan x="0" dy="14.7">samples = 5</tspan><tspan x="0" dy="14.7">value = [1, 4]</tspan></text></g>
<g id="n12" class="n" transform="translate(1330,628.1)"><rect class="b" x="-54.3" y="-26.9" width="108.6" height="53.8"/><text y="-10.1"><tspan x="0">gini = 0.0</tspan><tspan x="0" dy="14.7">samples = 14</tspan><tspan x="0" dy="14.7">value = [0, 14]</tspan></text></g>
<g id="n19" class="n" transform="translate(1463,628.1)"><rect fill="#98ccf1" x="-58.35" y="-34.25" width="116.7" height="68.5"/><text y="-17.45"><tspan x="0">X[8] &lt;= 13.908</tspan><tspan x="0" dy="14.7">gini = 0.438</tspan><tspan x="0" dy="14.7">samples = 37</tspan><tspan x="0" dy="14.7">value = [12, 25]</tspan></text></g>
<g id="n34" class="n" transform="translate(1596,628.1)"><rect class="b" x="-54.3" y="-26.9" width="108.6" height="53.8"/><text y="-10.1"><tspan x="0">gini = 0.0</tspan><tspan x="0" dy="14.7">samples = 12</tspan><tspan x="0" dy="14.7">value = [0, 12]</tspan></text></g>
<g id="n36" class="n" transform="translate(1727,628.1)"><rect fill="#88c4ef" x="-52.7" y="-34.25" width="105.4" height="68.5"/><text y="-17.45"><tspan x="0">X[7] &lt;= 526.0</tspan><tspan x="0" dy="14.7">gini = 0.408</tspan><tspan x="0" dy="14.7">samples = 7</tspan><tspan x="0" dy="14.7">value = [2, 5]</tspan></text></g>
<g id="n39" class="n" transform="translate(1860,628.1)"><rect class="o" x="-50.3" y="-26.9" width="100.6" height="53.8"/><text y="-10.1"><tspan x="0">gini = 0.0</tspan><tspan x="0" dy="14.7">samples = 7</tspan><tspan x="0" dy="14.7">value = [7, 0]</tspan></text></g>
<g id="n42" class="n" transform="translate(1992,628.1)"><rect class="b" x="-50.3" y="-26.9" width="100.6" height="53.8"/><text y="-10.1"><tspan x="0">gini = 0.0</tspan><tspan x="0" dy="14.7">samples = 1</tspan><tspan x="0" dy="14.7">value = [0, 1]</tspan></text></g>
<g id="n43" class="n" transform="translate(2124.5,628.1)"><rect fill="#e88e4d" x="-56.75" y="-34.25" width="113.5" height="68.5"/><text y="-17.45"><tspan x="0">X[8] &lt;= 21.717</tspan><tspan x="0" dy="14.7">gini = 0.165</tspan><tspan x="0" dy="14.7">samples = 11</tspan><tspan x="0" dy="14.7">value = [10, 1]</tspan></text></g>
<g id="n47" class="n" transform="translate(2388.6,628.1)"><rect fill="#eeab7b" x="-52.7" y="-34.25" width="105.4" height="68.5"/><text y="-17.45"><tspan x="0">X[4] &lt;= 30.35</tspan><tspan x="0" dy="14.7">gini = 0.375</tspan><tspan x="0" dy="14.7">samples = 8</tspan><tspan x="0" dy="14.7">value = [6, 2]</tspan></text></g>
<g id="n54" class="n" transform="translate(2653,628.1)"><rect fill="#55abe9" x="-50.3" y="-34.25" width="100.6" height="68.5"/><text y="-17.45"><tspan x="0">X[4] &lt;= 22.5</tspan><tspan x="0" dy="14.7">gini = 0.219</tspan><tspan x="0" dy="14.7">samples = 8</tspan><tspan x="0" dy="14.7">value = [1, 7]</tspan></text></g>
<g id="n76" class="n" transform="translate(3048,628.1)"><rect fill="#f6d5bd" x="-56.75" y="-34.25" width="113.5" height="68.5"/><text y="-17.45"><tspan x="0">X[8] &lt;= 30.025</tspan><tspan x="0" dy="14.7">gini = 0.48</tspan><tspan x="0" dy="14.7">samples = 5</tspan><tspan x="0" dy="14.7">value = [3, 2]</tspan></text></g>
<g id="n79" class="n" transform="translate(3314,628.1)"><rect fill="#e68742" x="-54.3" y="-34.25" width="108.6" height="68.5"/><text y="-17.45"><tspan x="0">X[4] &lt;= 48.5</tspan><tspan x="0" dy="14.7">gini = 0.083</tspan><tspan x="0" dy="14.7">samples = 23</tspan><tspan x="0" dy="14.7">value = [22, 1]</tspan></text></g>
<g id="n87" class="n" transform="translate(3447,628.1)"><rect class="b" x="-50.3" y="-26.9" width="100.6" height="53.8"/><text y="-10.1"><tspan x="0">gini = 0.0</tspan><tspan x="0" dy="14.7">samples = 7</tspan><tspan x="0" dy="14.7">value = [0, 7]</tspan></text></g>
<g id="n88" class="n" transform="translate(3579,628.1)"><rect fill="#ffffff" x="-50.3" y="-34.25" width="100.6" height="68.5"/><text y="-17.45"><tspan x="0">X[4] &lt;= 42.0</tspan><tspan x="0" dy="14.7">gini = 0.5</tspan><tspan x="0" dy="14.7">samples = 2</tspan><tspan x="0" dy="14.7">value = [1, 1]</tspan></text></g>
<g id="n92" class="n" transform="translate(3711,628.1)"><rect class="o" x="-50.3" y="-26.9" width="100.6" height="53.8"/><text y="-10.1"><tspan x="0">gini = 0.0</tspan><tspan x="0" dy="14.7">samples = 5</tspan><tspan x="0" dy="14.7">value = [5, 0]</tspan></text></g>
<g id="n93" class="n" transform="translate(3844,628.1)"><rect fill="#deeffb" x="-58.35" y="-34.25" width="116.7" height="68.5"/><text y="-17.45"><tspan x="0">X[0] &lt;= 197.5</tspan><tspan x="0" dy="14.7">gini = 0.496</tspan><tspan x="0" dy="14.7">samples = 22</tspan><tspan x="0" dy="14.7">value = [10, 12]</tspan></text></g>
<g id="n113" class="n" transform="translate(5034,628.1)"><rect fill="#f2c09c" x="-52.7" y="-34.25" width="105.4" height="68.5"/><text y="-17.45"><tspan x="0">X[7] &lt;= 267.5</tspan><tspan x="0" dy="14.7">gini = 0.444</tspan><tspan x="0" dy="14.7">samples = 9</tspan><tspan x="0" dy="14.7">value = [6, 3]</tspan></text></g>
<g id="n120" class="n" transform="translate(5588,628.1)"><rect fill="#e78c4a" x="-62.4" y="-34.25" width="124.8" height="68.5"/><text y="-17.45"><tspan x="0">X[2] &lt;= 590.5</tspan><tspan x="0" dy="14.7">gini = 0.145</tspan><tspan x="0" dy="14.7">samples = 279</tspan><tspan x="0" dy="14.7">value = [257, 22]</tspan></text></g>
<g id="n188" class="n" transform="translate(6142,628.1)"><rect fill="#ffffff" x="-52.7" y="-34.25" width="105.4" height="68.5"/><text y="-17.45"><tspan x="0">X[0] &lt;= 287.5</tspan><tspan x="0" dy="14.7">gini = 0.5</tspan><tspan x="0" dy="14.7">samples = 4</tspan><tspan x="0" dy="14.7">value = [2, 2]</tspan></text></g>
<g id="n193" class="n" transform="translate(6604,628.1)"><rect fill="#e89253" x="-54.3" y="-34.25" width="108.6" height="68.5"/><text y="-17.45"><tspan x="0">X[4] &lt;= 20.5</tspan><tspan x="0" dy="14.7">gini = 0.208</tspan><tspan x="0" dy="14.7">samples = 34</tspan><tspan x="0" dy="14.7">value = [30, 4]</tspan></text></g>
<g id="n203" class="n" transform="translate(6935,628.1)"><rect class="o" x="-50.3" y="-26.9" width="100.6" height="53.8"/><text y="-10.1"><tspan x="0">gini = 0.0</tspan><tspan x="0" dy="14.7">samples = 5</tspan><tspan x="0" dy="14.7">value = [5, 0]</tspan></text></g>
<g id="n204" class="n" transform="translate(7067.6,628.1)"><rect fill="#cee6f8" x="-54.3" y="-34.25" width="108.6" height="68.5"/><text y="-17.45"><tspan x="0">X[0] &lt;= 745.5</tspan><tspan x="0" dy="14.7">gini = 0.49</tspan><tspan x="0" dy="14.7">samples = 21</tspan><tspan x="0" dy="14.7">value = [9, 12]</tspan></text></g>
<g id="n8" class="n" transform="translate(1264,561)"><rect fill="#44a2e6" x="-54.3" y="-34.25" width="108.6" height="68.5"/><text y="-17.45"><tspan x="0">X[8] &lt;= 22.0</tspan><tspan x="0" dy="14.7">gini = 0.1</tspan><tspan x="0" dy="14.7">samples = 19</tspan><tspan x="0" dy="14.7">value = [1, 18]</tspan></text></g>
<g id="n13" class="n" transform="translate(1396,561)"><rect class="o" x="-50.3" y="-26.9" width="100.6" height="53.8"/><text y="-10.1"><tspan x="0">gini = 0.0</tspan><tspan x="0" dy="14.7">samples = 1</tspan><tspan x="0" dy="14.7">value = [1, 0]</tspan></text></g>
<g id="n18" class="n" transform="translate(1528,561)"><rect fill="#79bded" x="-58.35" y="-34.25" width="116.7" height="68.5"/><text y="-17.45"><tspan x="0">X[8] &lt;= 15.373</tspan><tspan x="0" dy="14.7">gini = 0.37</tspan><tspan x="0" dy="14.7">samples = 49</tspan><tspan x="0" dy="14.7">value = [12, 37]</tspan></text></g>
<g id="n35" class="n" transform="translate(1794,561)"><rect fill="#f3c7a7" x="-52.7" y="-34.25" width="105.4" height="68.5"/><text y="-17.45"><tspan x="0">X[0] &lt;= 390.0</tspan><tspan x="0" dy="14.7">gini = 0.459</tspan><tspan x="0" dy="14.7">samples = 14</tspan><tspan x="0" dy="14.7">value = [9, 5]</tspan></text></g>
<g id="n41" class="n" transform="translate(2058,561)"><rect fill="#ea9a61" x="-54.3" y="-34.25" width="108.6" height="68.5"/><text y="-17.45"><tspan x="0">X[8] &lt;= 7.752</tspan><tspan x="0" dy="14.7">gini = 0.278</tspan><tspan x="0" dy="14.7">samples = 12</tspan><tspan x="0" dy="14.7">value = [10, 2]</tspan></text></g>
<g id="n46" class="n" transform="translate(2521,561)"><rect fill="#d3e9f9" x="-52.7" y="-34.25" width="105.4" height="68.5"/><text y="-17.45"><tspan x="0">X[2] &lt;= 694.0</tspan><tspan x="0" dy="14.7">gini = 0.492</tspan><tspan x="0" dy="14.7">samples = 16</tspan><tspan x="0" dy="14.7">value = [7, 9]</tspan></text></g>
<g id="n61" class="n" transform="translate(2653.7,561)"><rect class="b" x="-50.3" y="-26.9" width="100.6" height="53.8"/><text y="-10.1"><tspan x="0">gini = 0.0</tspan><tspan x="0" dy="14.7">samples = 1</tspan><tspan x="0" dy="14.7">value = [0, 1]</tspan></text></g>
<g id="n62" class="n" transform="translate(2786,561)"><rect class="o" x="-50.3" y="-26.9" width="100.6" height="53.8"/><text y="-10.1"><tspan x="0">gini = 0.0</tspan><tspan x="0" dy="14.7">samples = 2</tspan><tspan x="0" dy="14.7">value = [2, 0]</tspan></text></g>
<g id="n69" class="n" transform="translate(2917,561)"><rect class="b" x="-50.3" y="-26.9" width="100.6" height="53.8"/><text y="-10.1"><tspan x="0">gini = 0.0</tspan><tspan x="0" dy="14.7">samples = 1</tspan><tspan x="0" dy="14.7">value = [0, 1]</tspan></text></g>
<g id="n70" class="n" transform="translate(3050,561)"><rect class="o" x="-50.3" y="-26.9" width="100.6" height="53.8"/><text y="-10.1"><tspan x="0">gini = 0.0</tspan><tspan x="0" dy="14.7">samples = 1</tspan><tspan x="0" dy="14.7">value = [1, 0]</tspan></text></g>
<g id="n75" class="n" transform="translate(3182,561)"><rect fill="#e89051" x="-54.3" y="-34.25" width="108.6" height="68.5"/><text y="-17.45"><tspan x="0">X[7] &lt;= 11.5</tspan><tspan x="0" dy="14.7">gini = 0.191</tspan><tspan x="0" dy="14.7">samples = 28</tspan><tspan x="0" dy="14.7">value = [25, 3]</tspan></text></g>
<g id="n84" class="n" transform="translate(3314,561)"><rect class="b" x="-50.3" y="-26.9" width="100.6" height="53.8"/><text y="-10.1"><tspan x="0">gini = 0.0</tspan><tspan x="0" dy="14.7">samples = 1</tspan><tspan x="0" dy="14.7">value = [0, 1]</tspan></text></g>
<g id="n86" class="n" transform="translate(3512,561)"><rect fill="#52a9e8" x="-50.3" y="-34.25" width="100.6" height="68.5"/><text y="-17.45"><tspan x="0">X[7] &lt;= 90.0</tspan><tspan x="0" dy="14.7">gini = 0.198</tspan><tspan x="0" dy="14.7">samples = 9</tspan><tspan x="0" dy="14.7">value = [1, 8]</tspan></text></g>
<g id="n91" class="n" transform="translate(3778,561)"><rect fill="#fae6d7" x="-58.35" y="-34.25" width="116.7" height="68.5"/><text y="-17.45"><tspan x="0">X[8] &lt;= 28.125</tspan><tspan x="0" dy="14.7">gini = 0.494</tspan><tspan x="0" dy="14.7">samples = 27</tspan><tspan x="0" dy="14.7">value = [15, 12]</tspan></text></g>
<g id="n112" class="n" transform="translate(5310,561)"><rect fill="#e78d4c" x="-62.4" y="-34.25" width="124.8" height="68.5"/><text y="-17.45"><tspan x="0">X[0] &lt;= 37.5</tspan><tspan x="0" dy="14.7">gini = 0.159</tspan><tspan x="0" dy="14.7">samples = 288</tspan><tspan x="0" dy="14.7">value = [263, 25]</tspan></text></g>
<g id="n185" class="n" transform="translate(5443,561)"><rect class="b" x="-50.3" y="-26.9" width="100.6" height="53.8"/><text y="-10.1"><tspan x="0">gini = 0.0</tspan><tspan x="0" dy="14.7">samples = 1</tspan><tspan x="0" dy="14.7">value = [0, 1]</tspan></text></g>
<g id="n187" class="n" transform="translate(6373.5,561)"><rect fill="#ea995e" x="-54.3" y="-34.25" width="108.6" height="68.5"/><text y="-17.45"><tspan x="0">X[7] &lt;= 593.5</tspan><tspan x="0" dy="14.7">gini = 0.266</tspan><tspan x="0" dy="14.7">samples = 38</tspan><tspan x="0" dy="14.7">value = [32, 6]</tspan></text></g>
<g id="n202" class="n" transform="translate(7001.7,561)"><rect fill="#fbede3" x="-58.35" y="-34.25" width="116.7" height="68.5"/><text y="-17.45"><tspan x="0">X[0] &lt;= 367.0</tspan><tspan x="0" dy="14.7">gini = 0.497</tspan><tspan x="0" dy="14.7">samples = 26</tspan><tspan x="0" dy="14.7">value = [14, 12]</tspan></text></g>
<g id="n4" class="n" transform="translate(1066.6,493.9)"><rect class="o" x="-50.3" y="-26.9" width="100.6" height="53.8"/><text y="-10.1"><tspan x="0">gini = 0.0</tspan><tspan x="0" dy="14.7">samples = 2</tspan><tspan x="0" dy="14.7">value = [2, 0]</tspan></text></g>
<g id="n5" class="n" transform="translate(1198,493.9)"><rect class="b" x="-50.3" y="-26.9" width="100.6" height="53.8"/><text y="-10.1"><tspan x="0">gini = 0.0</tspan><tspan x="0" dy="14.7">samples = 2</tspan><tspan x="0" dy="14.7">value = [0, 2]</tspan></text></g>
<g id="n7" class="n" transform="translate(1330,493.9)"><rect fill="#4fa8e8" x="-54.3" y="-34.25" width="108.6" height="68.5"/><text y="-17.45"><tspan x="0">X[0] &lt;= 172.5</tspan><tspan x="0" dy="14.7">gini = 0.18</tspan><tspan x="0" dy="14.7">samples = 20</tspan><tspan x="0" dy="14.7">value = [2, 18]</tspan></text></g>
<g id="n14" class="n" transform="translate(1463,493.9)"><rect class="b" x="-54.3" y="-26.9" width="108.6" height="53.8"/><text y="-10.1"><tspan x="0">gini = 0.0</tspan><tspan x="0" dy="14.7">samples = 96</tspan><tspan x="0" dy="14.7">value = [0, 96]</tspan></text></g>
<g id="n17" class="n" transform="translate(1661,493.9)"><rect fill="#9ccef2" x="-58.35" y="-34.25" width="116.7" height="68.5"/><text y="-17.45"><tspan x="0">X[7] &lt;= 488.0</tspan><tspan x="0" dy="14.7">gini = 0.444</tspan><tspan x="0" dy="14.7">samples = 63</tspan><tspan x="0" dy="14.7">value = [21, 42]</tspan></text></g>
<g id="n40" class="n" transform="translate(2290,493.9)"><rect fill="#f6d3b9" x="-58.35" y="-34.25" width="116.7" height="68.5"/><text y="-17.45"><tspan x="0">X[0] &lt;= 254.0</tspan><tspan x="0" dy="14.7">gini = 0.477</tspan><tspan x="0" dy="14.7">samples = 28</tspan><tspan x="0" dy="14.7">value = [17, 11]</tspan></text></g>
<g id="n60" class="n" transform="translate(2719.7,493.9)"><rect fill="#f2c09c" x="-52.7" y="-34.25" width="105.4" height="68.5"/><text y="-17.45"><tspan x="0">X[7] &lt;= 331.0</tspan><tspan x="0" dy="14.7">gini = 0.444</tspan><tspan x="0" dy="14.7">samples = 3</tspan><tspan x="0" dy="14.7">value = [2, 1]</tspan></text></g>
<g id="n63" class="n" transform="translate(2851,493.9)"><rect class="o" x="-54.3" y="-26.9" width="108.6" height="53.8"/><text y="-10.1"><tspan x="0">gini = 0.0</tspan><tspan x="0" dy="14.7">samples = 15</tspan><tspan x="0" dy="14.7">value = [15, 0]</tspan></text></g>
<g id="n68" class="n" transform="translate(2983,493.9)"><rect fill="#ffffff" x="-52.7" y="-34.25" width="105.4" height="68.5"/><text y="-17.45"><tspan x="0">X[0] &lt;= 556.5</tspan><tspan x="0" dy="14.7">gini = 0.5</tspan><tspan x="0" dy="14.7">samples = 2</tspan><tspan x="0" dy="14.7">value = [1, 1]</tspan></text></g>
<g id="n71" class="n" transform="translate(3116.6,493.9)"><rect class="o" x="-50.3" y="-26.9" width="100.6" height="53.8"/><text y="-10.1"><tspan x="0">gini = 0.0</tspan><tspan x="0" dy="14.7">samples = 5</tspan><tspan x="0" dy="14.7">value = [5, 0]</tspan></text></g>
<g id="n74" class="n" transform="translate(3248.5,493.9)"><rect fill="#e99559" x="-54.3" y="-34.25" width="108.6" height="68.5"/><text y="-17.45"><tspan x="0">X[0] &lt;= 837.0</tspan><tspan x="0" dy="14.7">gini = 0.238</tspan><tspan x="0" dy="14.7">samples = 29</tspan><tspan x="0" dy="14.7">value = [25, 4]</tspan></text></g>
<g id="n85" class="n" transform="translate(3645,493.9)"><rect fill="#d7ebfa" x="-58.35" y="-34.25" width="116.7" height="68.5"/><text y="-17.45"><tspan x="0">X[2] &lt;= 236.5</tspan><tspan x="0" dy="14.7">gini = 0.494</tspan><tspan x="0" dy="14.7">samples = 36</tspan><tspan x="0" dy="14.7">value = [16, 20]</tspan></text></g>
<g id="n111" class="n" transform="translate(5377,493.9)"><rect fill="#e88d4d" x="-62.4" y="-34.25" width="124.8" height="68.5"/><text y="-17.45"><tspan x="0">X[4] &lt;= 77.0</tspan><tspan x="0" dy="14.7">gini = 0.164</tspan><tspan x="0" dy="14.7">samples = 289</tspan><tspan x="0" dy="14.7">value = [263, 26]</tspan></text></g>
<g id="n186" class="n" transform="translate(6687,493.9)"><rect fill="#efb286" x="-58.35" y="-34.25" width="116.7" height="68.5"/><text y="-17.45"><tspan x="0">X[4] &lt;= 30.5</tspan><tspan x="0" dy="14.7">gini = 0.404</tspan><tspan x="0" dy="14.7">samples = 64</tspan><tspan x="0" dy="14.7">value = [46, 18]</tspan></text></g>
<g id="n3" class="n" transform="translate(1132,426.8)"><rect fill="#ffffff" x="-50.3" y="-34.25" width="100.6" height="68.5"/><text y="-17.45"><tspan x="0">X[4] &lt;= 26.5</tspan><tspan x="0" dy="14.7">gini = 0.5</tspan><tspan x="0" dy="14.7">samples = 4</tspan><tspan x="0" dy="14.7">value = [2, 2]</tspan></text></g>
<g id="n6" class="n" transform="translate(1397,426.8)"><rect fill="#3c9fe5" x="-58.35" y="-34.25" width="116.7" height="68.5"/><text y="-17.45"><tspan x="0">X[0] &lt;= 184.5</tspan><tspan x="0" dy="14.7">gini = 0.034</tspan><tspan x="0" dy="14.7">samples = 116</tspan><tspan x="0" dy="14.7">value = [2, 114]</tspan></text></g>
<g id="n16" class="n" transform="translate(1976,426.8)"><rect fill="#c7e3f8" x="-58.35" y="-34.25" width="116.7" height="68.5"/><text y="-17.45"><tspan x="0">X[2] &lt;= 606.0</tspan><tspan x="0" dy="14.7">gini = 0.486</tspan><tspan x="0" dy="14.7">samples = 91</tspan><tspan x="0" dy="14.7">value = [38, 53]</tspan></text></g>
<g id="n59" class="n" transform="translate(2785,426.8)"><rect fill="#e78845" x="-54.3" y="-34.25" width="108.6" height="68.5"/><text y="-17.45"><tspan x="0">X[2] &lt;= 148.0</tspan><tspan x="0" dy="14.7">gini = 0.105</tspan><tspan x="0" dy="14.7">samples = 18</tspan><tspan x="0" dy="14.7">value = [17, 1]</tspan></text></g>
<g id="n66" class="n" transform="translate(2916,426.8)"><rect class="b" x="-54.3" y="-26.9" width="108.6" height="53.8"/><text y="-10.1"><tspan x="0">gini = 0.0</tspan><tspan x="0" dy="14.7">samples = 14</tspan><tspan x="0" dy="14.7">value = [0, 14]</tspan></text></g>
<g id="n67" class="n" transform="translate(3050,426.8)"><rect fill="#e9965a" x="-52.7" y="-34.25" width="105.4" height="68.5"/><text y="-17.45"><tspan x="0">X[2] &lt;= 170.0</tspan><tspan x="0" dy="14.7">gini = 0.245</tspan><tspan x="0" dy="14.7">samples = 7</tspan><tspan x="0" dy="14.7">value = [6, 1]</tspan></text></g>
<g id="n73" class="n" transform="translate(3447,426.8)"><rect fill="#f4cbad" x="-58.35" y="-34.25" width="116.7" height="68.5"/><text y="-17.45"><tspan x="0">X[7] &lt;= 49.0</tspan><tspan x="0" dy="14.7">gini = 0.466</tspan><tspan x="0" dy="14.7">samples = 65</tspan><tspan x="0" dy="14.7">value = [41, 24]</tspan></text></g>
<g id="n110" class="n" transform="translate(6032.5,426.8)"><rect fill="#e99355" x="-62.4" y="-34.25" width="124.8" height="68.5"/><text y="-17.45"><tspan x="0">X[7] &lt;= 573.5</tspan><tspan x="0" dy="14.7">gini = 0.218</tspan><tspan x="0" dy="14.7">samples = 353</tspan><tspan x="0" dy="14.7">value = [309, 44]</tspan></text></g>
<g id="n2" class="n" transform="translate(1265,359.7)"><rect fill="#40a0e6" x="-58.35" y="-34.25" width="116.7" height="68.5"/><text y="-17.45"><tspan x="0">X[2] &lt;= 27.0</tspan><tspan x="0" dy="14.7">gini = 0.064</tspan><tspan x="0" dy="14.7">samples = 120</tspan><tspan x="0" dy="14.7">value = [4, 116]</tspan></text></g>
<g id="n15" class="n" transform="translate(2380,359.7)"><rect fill="#fffdfb" x="-58.35" y="-34.25" width="116.7" height="68.5"/><text y="-17.45"><tspan x="0">X[8] &lt;= 23.35</tspan><tspan x="0" dy="14.7">gini = 0.5</tspan><tspan x="0" dy="14.7">samples = 109</tspan><tspan x="0" dy="14.7">value = [55, 54]</tspan></text></g>
<g id="n65" class="n" transform="translate(2984,359.7)"><rect fill="#88c4ef" x="-54.3" y="-34.25" width="108.6" height="68.5"/><text y="-17.45"><tspan x="0">X[5] &lt;= 3.0</tspan><tspan x="0" dy="14.7">gini = 0.408</tspan><tspan x="0" dy="14.7">samples = 21</tspan><tspan x="0" dy="14.7">value = [6, 15]</tspan></text></g>
<g id="n72" class="n" transform="translate(4739,359.7)"><rect fill="#ea995f" x="-62.4" y="-34.25" width="124.8" height="68.5"/><text y="-17.45"><tspan x="0">X[7] &lt;= 100.0</tspan><tspan x="0" dy="14.7">gini = 0.272</tspan><tspan x="0" dy="14.7">samples = 418</tspan><tspan x="0" dy="14.7">value = [350, 68]</tspan></text></g>
<g id="n1" class="n" transform="translate(1822,292.6)"><rect fill="#7ebfee" x="-62.4" y="-34.25" width="124.8" height="68.5"/><text y="-17.45"><tspan x="0">X[1] &lt;= 2.5</tspan><tspan x="0" dy="14.7">gini = 0.383</tspan><tspan x="0" dy="14.7">samples = 229</tspan><tspan x="0" dy="14.7">value = [59, 170]</tspan></text></g>
<g id="n64" class="n" transform="translate(3862,292.6)"><rect fill="#eb9e67" x="-62.4" y="-34.25" width="124.8" height="68.5"/><text y="-17.45"><tspan x="0">X[4] &lt;= 6.5</tspan><tspan x="0" dy="14.7">gini = 0.307</tspan><tspan x="0" dy="14.7">samples = 439</tspan><tspan x="0" dy="14.7">value = [356, 83]</tspan></text></g>
<g id="n0" class="n" transform="translate(2841.7,225.5)"><rect fill="#f5ceb2" x="-66.45" y="-34.25" width="132.9" height="68.5"/><text y="-17.45"><tspan x="0">X[3] &lt;= 0.5</tspan><tspan x="0" dy="14.7">gini = 0.471</tspan><tspan x="0" dy="14.7">samples = 668</tspan><tspan x="0" dy="14.7">value = [415, 253]</tspan></text></g>
</g>
</svg>
